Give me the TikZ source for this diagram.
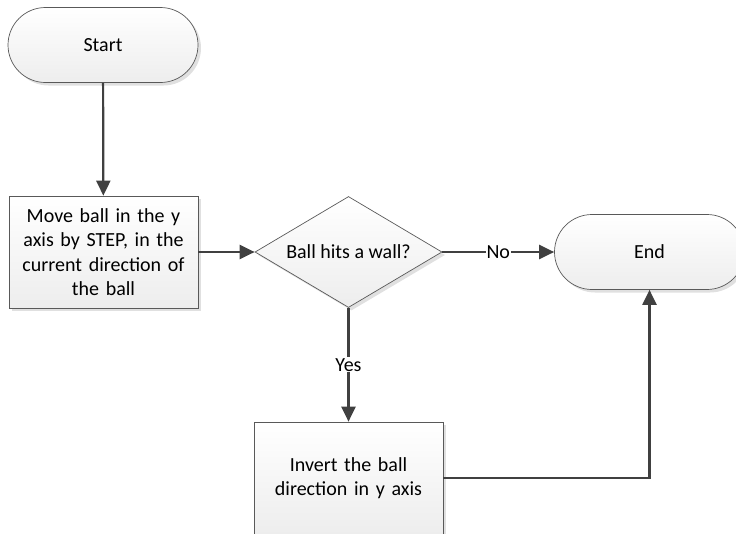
\documentclass[tikz,border=0pt]{standalone}
\usepackage{fontspec}
\setmainfont{Carlito}
\usetikzlibrary{shapes.geometric,shapes.misc,arrows.meta,shadows}
\definecolor{edgegray}{HTML}{404040}
\definecolor{linegray}{HTML}{595959}
\begin{document}
\begin{tikzpicture}[x=1pt,y=-1pt,
  every node/.style={font=\fontsize{20}{24.5}\selectfont, text=black},
  base/.style={draw=linegray, line width=0.7pt, top color=white, bottom color=black!7,
    drop shadow={shadow xshift=3pt, shadow yshift=-3pt, fill=black!12, opacity=1}},
  term/.style={base, rounded rectangle, minimum width=190pt, minimum height=75pt, inner sep=0pt},
  proc/.style={base, rectangle, minimum width=189pt, minimum height=112pt, text width=180pt, align=center, inner sep=0pt},
  dec/.style={base, diamond, aspect=1.68, minimum width=187pt, minimum height=111pt, inner sep=0pt},
  arr/.style={draw=edgegray, line width=2.2pt, -{Triangle[length=15pt,width=14pt]}},
  lbl/.style={fill=white, inner sep=1pt}
]
\useasboundingbox (0,0) rectangle (736,533);
\node[term] (start) at (103,45) {Start};
\node[proc] (move) at (103.5,252) {Move ball in the y\\axis by STEP, in the\\current direction of\\the ball};
\node[dec] (dec) at (348.5,252) {Ball hits a wall?};
\node[term] (end) at (649.5,252) {End};
\node[proc] (inv) at (348.5,478) {Invert the ball\\direction in y axis};
\draw[arr] (start) -- (move);
\draw[arr] (move) -- (dec);
\draw[arr] (dec) -- node[lbl] {No} (end);
\draw[arr] (dec) -- node[lbl] {Yes} (inv);
\draw[arr] (inv.east) -| (end.south);
\end{tikzpicture}
\end{document}
